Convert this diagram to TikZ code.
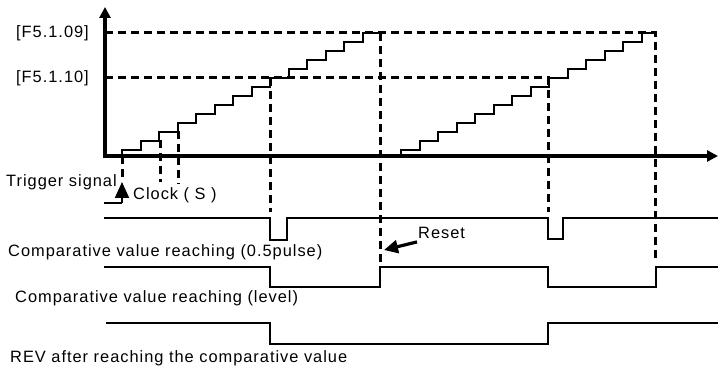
\documentclass[tikz,border=0pt]{standalone}
\usepackage{fontspec}
\setmainfont{Liberation Sans}
\newfontfamily\lblfont[LetterSpace=6]{Liberation Sans}
\usetikzlibrary{positioning,arrows.meta,calc}
\tikzset{
  sig/.style={line width=2pt,line join=miter},
  guide/.style={line width=3pt,dash pattern=on 8pt off 5pt},
  axis/.style={line width=3.4pt,-{Triangle[length=11pt,width=11pt]}},
  lbl/.style={font=\lblfont\fontsize{16.4}{18}\selectfont,inner sep=0pt}
}

\begin{document}
\begin{tikzpicture}[x=1pt,y=-1pt,>=Stealth]
  \useasboundingbox (0,0) rectangle (718,366);
  % axes
  \coordinate (o) at (105,156);
  \coordinate (ytop) at (105,7);
  \coordinate (xend) at (718,156);
  \draw[axis] (o) -- (ytop);
  \draw[axis] ($(o)+(-1.7,0)$) -- (xend);
  % compare levels
  \node[lbl,anchor=east] (f09) at (89,33) {[F5.1.09]};
  \node[lbl,anchor=east] (f10) at (89,78) {[F5.1.10]};
  \draw[guide] (105,33) -- (655,33) -- (655,262);
  \draw[guide] (105,78) -- (548,78) -- (548,212);
  \draw[guide] (270,78) -- (270,212);
  \draw[guide] (380,33) -- (380,262);
  % trigger and clock marks
  \draw[guide] (122,156) -- (122,180);
  \draw[guide] (160,140) -- (160,182);
  \draw[guide] (178,131) -- (178,184);
  % counter staircases
  \draw[sig] (122,156) -- (122,150)
    \foreach \k in {1,...,13} { -- ({122+18.5*\k},{150-9*(\k-1)}) -- ({122+18.5*\k},{150-9*\k}) }
    -- (380,33);
  \draw[sig] (401,156) -- (401,150)
    \foreach \k in {1,...,13} { -- ({401+18.5*\k},{150-9*(\k-1)}) -- ({401+18.5*\k},{150-9*\k}) }
    -- (655,33);
  % trigger signal
  \node[lbl,anchor=west] (trig) at (6,182) {Trigger signal};
  \node[lbl,anchor=west] (clk) at (133,195) {Clock ( S )};
  \draw[sig] (104,203) -- (122,203);
  \draw[line width=2pt,-{Triangle[length=16pt,width=14pt]}] (122,203) -- (122,182);
  % output signals
  \draw[sig] (104,218) -- (270,218) -- (270,240) -- (287,240) -- (287,218)
    -- (548,218) -- (548,239) -- (563,239) -- (563,218) -- (718,218);
  \node[lbl,anchor=west] (pulse) at (8,252) {Comparative value reaching (0.5pulse)};
  \draw[sig] (104,267) -- (270,267) -- (270,287) -- (380,287) -- (380,267)
    -- (548,267) -- (548,287) -- (656,287) -- (656,267) -- (718,267);
  \node[lbl,anchor=west] (level) at (15,298) {Comparative value reaching (level)};
  \draw[sig] (106,323) -- (270,323) -- (270,344) -- (548,344) -- (548,323) -- (718,323);
  \node[lbl,anchor=west] (rev) at (10,358) {REV after reaching the comparative value};
  % reset
  \node[lbl,anchor=west] (reset) at (418,233) {Reset};
  \coordinate (rtip) at (384,250);
  \draw[line width=3.2pt,-{Triangle[length=14pt,width=13pt]}] ($(reset.south west)+(-1,3)$) -- (rtip);
\end{tikzpicture}
\end{document}
